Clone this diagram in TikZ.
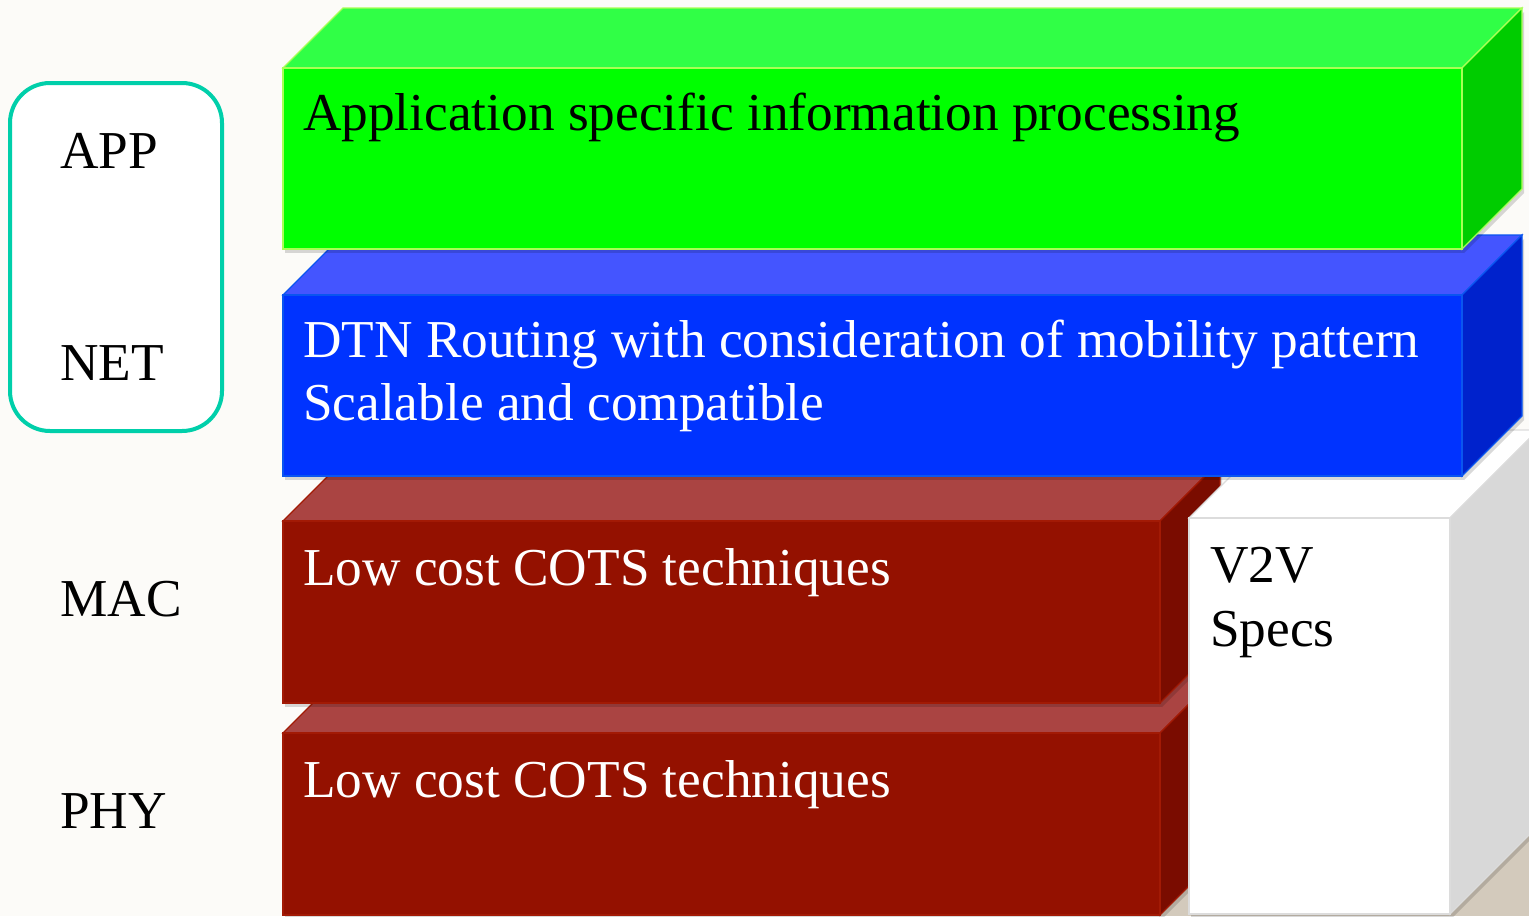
\documentclass[tikz,border=0pt]{standalone}
\usepackage{fontspec}
\setmainfont{Liberation Serif}
\definecolor{bg}{HTML}{FCFBF8}
\definecolor{texc}{HTML}{D3CABC}
\definecolor{gFront}{HTML}{00FF00}
\definecolor{gTop}{HTML}{30FF46}
\definecolor{gSide}{HTML}{00CC00}
\definecolor{gEdge}{HTML}{A8FF55}
\definecolor{bFront}{HTML}{0033FF}
\definecolor{bTop}{HTML}{4455FF}
\definecolor{bSide}{HTML}{0022CC}
\definecolor{bEdge}{HTML}{0A55F0}
\definecolor{rFront}{HTML}{941100}
\definecolor{rTop}{HTML}{AA4442}
\definecolor{rSide}{HTML}{7A0C00}
\definecolor{rEdge}{HTML}{A21A05}
\definecolor{wFront}{HTML}{FFFFFF}
\definecolor{wTop}{HTML}{FFFFFF}
\definecolor{wSide}{HTML}{D8D8D8}
\definecolor{wEdge}{HTML}{DCDCDC}
\definecolor{teal}{HTML}{00CFAA}
\newcommand\layerbox[6]{%
  \fill[black,opacity=0.15] (#1+2,#2+4) rectangle (#3+2,#4+4);
  \fill[black,opacity=0.15] (#3+2,#2+4) -- (#3+#5+2,#2-#5+4) -- (#3+#5+2,#4-#5+4) -- (#3+2,#4+4) -- cycle;
  \filldraw[fill=#6Top,draw=#6Edge,line width=1.2] (#1,#2) -- (#1+#5,#2-#5) -- (#3+#5,#2-#5) -- (#3,#2) -- cycle;
  \filldraw[fill=#6Side,draw=#6Edge,line width=1.2] (#3,#2) -- (#3+#5,#2-#5) -- (#3+#5,#4-#5) -- (#3,#4) -- cycle;
  \filldraw[fill=#6Front,draw=#6Edge,line width=1.2] (#1,#2) rectangle (#3,#4);
}
\tikzset{
  big/.style={font=\fontsize{53.3}{63.5}\selectfont, inner sep=0pt, anchor=base west},
  onlight/.style={big, text=black},
  ondark/.style={big, text=white},
  lbl/.style={big, text=black}
}
\begin{document}
\begin{tikzpicture}[x=1pt,y=-1pt]
\useasboundingbox (0,0) rectangle (1529,916);
\fill[bg] (0,0) rectangle (1529,916);
\fill[texc] (1150,820) rectangle (1529,916);
% left panel
\filldraw[draw=teal,fill=white,line width=4,rounded corners=40] (10,83) rectangle (222,431);
\node[lbl] (app) at (60,168) {APP};
\node[lbl] (net) at (60,380) {NET};
\node[lbl] (mac) at (60,616) {MAC};
\node[lbl] (phy) at (60,828) {PHY};
% layers, back to front
\layerbox{283}{733}{1160}{915}{60}{r}
\layerbox{283}{521}{1160}{703}{60}{r}
\layerbox{1189}{518}{1450}{914}{88}{w}
\layerbox{283}{295}{1462}{476}{60}{b}
\layerbox{283}{68}{1462}{249}{60}{g}
% texts
\node[onlight] (apptxt) at (303,130) {Application specific information processing};
\node[ondark] (nettxt1) at (303,357) {DTN Routing with consideration of mobility pattern};
\node[ondark] (nettxt2) at (303,420) {Scalable and compatible};
\node[ondark] (mactxt) at (303,585) {Low cost COTS techniques};
\node[ondark] (phytxt) at (303,797) {Low cost COTS techniques};
\node[onlight] (v2v1) at (1210,582) {V2V};
\node[onlight] (v2v2) at (1210,646) {Specs};
\end{tikzpicture}
\end{document}
